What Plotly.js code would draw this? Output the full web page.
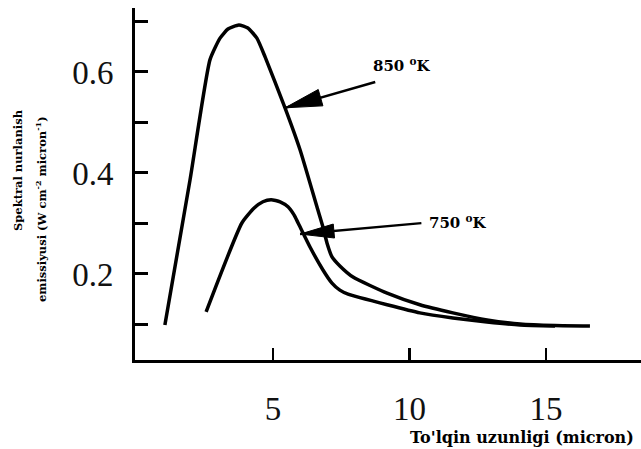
<!DOCTYPE html>
<html>
<head>
<meta charset="utf-8">
<script src="https://cdn.plot.ly/plotly-3.0.1.min.js"></script>
<style>html,body{margin:0;padding:0;background:#fff;}#chart{width:641px;height:449px;}</style>
</head>
<body>
<div id="chart"></div>
<script>
// Wavelength (micron) and spectral emittance for each temperature
var wl850 = [1.04, 1.96, 2.69, 3.06, 3.35, 3.75, 4.08, 4.41, 4.71, 5.44, 5.99, 6.61, 6.83, 6.98, 7.16, 7.45, 7.93, 9.18, 10.38, 11.59, 12.84, 14.05, 15.33, 16.61];
var em850 = [0.099, 0.386, 0.624, 0.667, 0.685, 0.693, 0.687, 0.667, 0.630, 0.529, 0.446, 0.333, 0.293, 0.261, 0.234, 0.216, 0.194, 0.162, 0.139, 0.123, 0.109, 0.101, 0.098, 0.097];
var wl750 = [2.55, 3.86, 4.30, 4.63, 4.93, 5.26, 5.55, 5.77, 5.92, 6.36, 6.83, 7.16, 7.45, 7.75, 9.18, 10.38, 11.59, 12.84, 14.05, 15.33];
var em750 = [0.125, 0.301, 0.330, 0.343, 0.347, 0.343, 0.333, 0.317, 0.301, 0.253, 0.208, 0.182, 0.168, 0.160, 0.139, 0.123, 0.113, 0.105, 0.099, 0.097];

var xTicks = [5, 10, 15];
var yTicks = [0.1, 0.2, 0.3, 0.4, 0.5, 0.6, 0.7];
var yTickText = ['', '0.2', '', '0.4', '', '0.6', ''];

var labels = ['850 <sup>o</sup>K', '750 <sup>o</sup>K'];
var xTitle = "To'lqin uzunligi (micron)";
var yTitle1 = 'Spektral nurlanish';
var yTitle2 = 'emissiyusi (W cm<sup>-2</sup> micron<sup>-1</sup>)';

// Arrow geometry (data coordinates): tip on the curve, tail near the label
var arrows = [
  {tip: [5.44, 0.529], tail: [8.80, 0.581], label: [9.73, 0.614], L: 37, W: 17},
  {tip: [5.99, 0.279], tail: [10.49, 0.301], label: [11.78, 0.303], L: 34, W: 14}
];

var W = 641, H = 449;
var mL = 135, mR = 0, mT = 8, mB = 89;
var xr = [-0.055, 18.48], yr = [0.0297, 0.7267];
var kx = (W - mL - mR) / (xr[1] - xr[0]);
var ky = (H - mT - mB) / (yr[1] - yr[0]);

function headPath(a) {
  var dx = (a.tail[0] - a.tip[0]) * kx;
  var dy = -(a.tail[1] - a.tip[1]) * ky;
  var len = Math.sqrt(dx * dx + dy * dy);
  var ux = dx / len, uy = dy / len;
  var nx = -uy, ny = ux;
  var bx = ux * a.L, by = uy * a.L;
  var p1 = [bx + nx * a.W / 2, by + ny * a.W / 2];
  var p2 = [bx - nx * a.W / 2, by - ny * a.W / 2];
  function toData(p) { return [a.tip[0] + p[0] / kx, a.tip[1] - p[1] / ky]; }
  var q1 = toData(p1), q2 = toData(p2);
  return 'M' + a.tip[0] + ',' + a.tip[1] + ' L' + q1[0] + ',' + q1[1] + ' L' + q2[0] + ',' + q2[1] + ' Z';
}

var lineStyle = {color: '#000', width: 3.5, shape: 'spline', smoothing: 0.5};
var traces = [
  {x: wl850, y: em850, mode: 'lines', line: lineStyle, name: '850 K', hoverinfo: 'skip'},
  {x: wl750, y: em750, mode: 'lines', line: lineStyle, name: '750 K', hoverinfo: 'skip'}
];

var annotations = [];
var shapes = [];
arrows.forEach(function (a, i) {
  annotations.push({
    x: a.tip[0], y: a.tip[1], xref: 'x', yref: 'y',
    ax: a.tail[0], ay: a.tail[1], axref: 'x', ayref: 'y',
    text: '', showarrow: true, arrowhead: 0, arrowwidth: 2.5, arrowcolor: '#000'
  });
  annotations.push({
    x: a.label[0], y: a.label[1], xref: 'x', yref: 'y',
    text: '<b>' + labels[i] + '</b>', showarrow: false,
    xanchor: 'center', yanchor: 'middle',
    font: {family: 'DejaVu Serif', size: 15, color: '#000'}
  });
  shapes.push({type: 'path', xref: 'x', yref: 'y', path: headPath(a),
    fillcolor: '#000', line: {color: '#000', width: 1}});
});
annotations.push({
  xref: 'paper', yref: 'paper', x: (522 - mL) / (W - mL - mR), y: (H - mB - 437) / (H - mT - mB),
  text: '<b>' + xTitle + '</b>', showarrow: false, xanchor: 'center', yanchor: 'middle',
  font: {family: 'DejaVu Serif', size: 16, color: '#000'}
});
annotations.push({
  xref: 'paper', yref: 'paper', x: (18 - mL) / (W - mL - mR), y: (H - mB - 170) / (H - mT - mB),
  text: '<b>' + yTitle1 + '</b>', showarrow: false, xanchor: 'center', yanchor: 'middle', textangle: -90,
  font: {family: 'DejaVu Serif', size: 11.5, color: '#000'}
});
annotations.push({
  xref: 'paper', yref: 'paper', x: (41 - mL) / (W - mL - mR), y: (H - mB - 209) / (H - mT - mB),
  text: '<b>' + yTitle2 + '</b>', showarrow: false, xanchor: 'center', yanchor: 'middle', textangle: -90,
  font: {family: 'DejaVu Serif', size: 11.5, color: '#000'}
});

var tickFont = {family: 'Liberation Serif, Times New Roman, serif', size: 33, color: '#111'};
var layout = {
  width: W, height: H,
  margin: {l: mL, r: mR, t: mT, b: mB, pad: 0},
  paper_bgcolor: '#fff', plot_bgcolor: '#fff',
  showlegend: false,
  xaxis: {
    range: xr, showgrid: false, zeroline: false, showline: true, linecolor: '#000', linewidth: 3,
    ticks: 'inside', ticklen: 12, tickwidth: 2.5, tickcolor: '#000',
    tickmode: 'array', tickvals: xTicks, ticktext: xTicks.map(String),
    tickfont: tickFont,
    ticklabelstandoff: 17
  },
  yaxis: {
    range: yr, showgrid: false, zeroline: false, showline: true, linecolor: '#000', linewidth: 3,
    ticks: 'inside', ticklen: 13, tickwidth: 3, tickcolor: '#000',
    tickmode: 'array', tickvals: yTicks, ticktext: yTickText,
    tickfont: tickFont,
    ticklabelstandoff: 12
  },
  annotations: annotations,
  shapes: shapes
};

Plotly.newPlot('chart', traces, layout, {staticPlot: true, displayModeBar: false});
</script>
</body>
</html>
